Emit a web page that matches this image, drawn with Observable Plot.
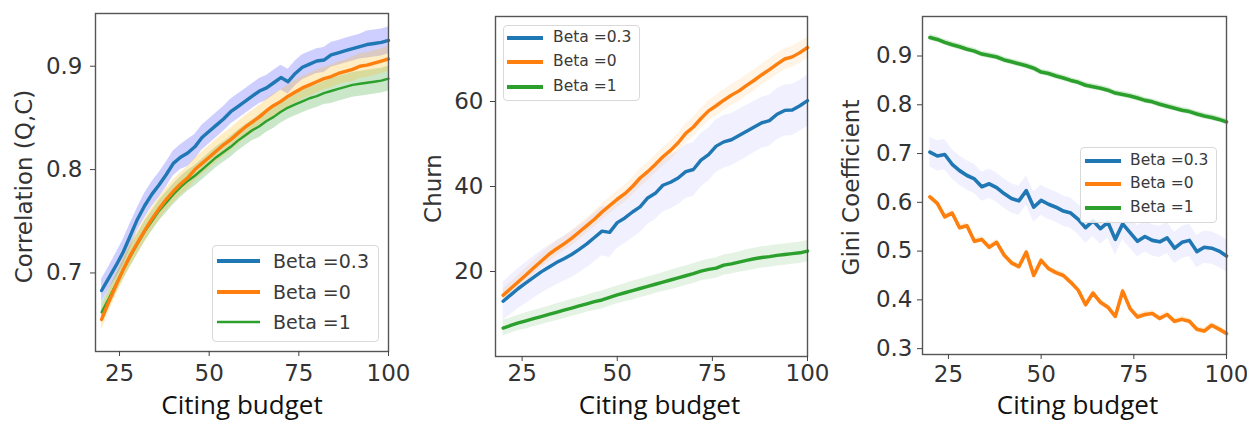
<!DOCTYPE html>
<html><head><meta charset="utf-8">
<script src="https://cdn.jsdelivr.net/npm/d3@7"></script>
<script src="https://cdn.jsdelivr.net/npm/@observablehq/plot@0.6"></script>
<style>
body{margin:0;background:#fff;}
#wrap{position:relative;width:1247px;height:423px;overflow:hidden;font-family:"DejaVu Sans",sans-serif;background:#fff;}
.panel{position:absolute;top:0;}
.legend{position:absolute;border:1px solid #d9d9d9;border-radius:4px;background:rgba(255,255,255,0.85);box-sizing:border-box;color:#3a3a3a;font-family:"DejaVu Sans",sans-serif;}
.legend svg{position:absolute;overflow:visible;}
.legend span{position:absolute;line-height:1;}
</style></head>
<body><div id="wrap"></div>
<script>
// ---------- data ----------
const budget = [20,22,24,26,28,30,32,34,36,38,40,42,44,46,48,50,52,54,56,58,60,62,64,66,68,70,72,74,76,78,80,82,84,86,88,90,92,94,96,98,100];
const seriesNames = ["Beta =0.3","Beta =0", "Beta =1"];
const seriesColors = ["#1f77b4","#ff7f0e","#2ca02c"];

// Panel 1: Correlation (Q,C)
const corrB03 = [0.683,0.695,0.707,0.720,0.736,0.752,0.765,0.776,0.785,0.795,0.806,0.812,0.816,0.822,0.831,0.837,0.843,0.849,0.856,0.861,0.866,0.871,0.876,0.879,0.884,0.889,0.885,0.893,0.899,0.902,0.905,0.906,0.911,0.913,0.915,0.917,0.919,0.921,0.922,0.923,0.925];
const corrB0  = [0.655,0.672,0.688,0.703,0.717,0.729,0.741,0.752,0.762,0.771,0.779,0.786,0.792,0.800,0.806,0.812,0.818,0.824,0.829,0.835,0.841,0.846,0.851,0.857,0.862,0.866,0.871,0.875,0.879,0.882,0.885,0.888,0.890,0.893,0.895,0.897,0.900,0.901,0.903,0.905,0.907];
const corrB1  = [0.662,0.675,0.689,0.703,0.716,0.728,0.740,0.750,0.760,0.768,0.776,0.783,0.789,0.794,0.800,0.806,0.812,0.817,0.822,0.828,0.833,0.838,0.842,0.847,0.851,0.856,0.860,0.863,0.866,0.869,0.871,0.874,0.876,0.878,0.880,0.882,0.883,0.884,0.885,0.886,0.888];
const corrSdB03 = [0.011,0.011,0.012,0.012,0.012,0.011,0.012,0.012,0.012,0.012,0.012,0.012,0.013,0.012,0.012,0.012,0.012,0.012,0.012,0.012,0.012,0.012,0.012,0.012,0.012,0.012,0.012,0.012,0.012,0.012,0.012,0.012,0.012,0.012,0.012,0.012,0.012,0.013,0.013,0.013,0.013];
const corrSdB0  = [0.010,0.010,0.010,0.011,0.011,0.011,0.011,0.011,0.011,0.011,0.011,0.011,0.011,0.011,0.011,0.011,0.011,0.011,0.011,0.011,0.011,0.011,0.011,0.011,0.011,0.011,0.011,0.011,0.011,0.011,0.011,0.011,0.011,0.011,0.011,0.012,0.012,0.012,0.012,0.012,0.012];
const corrSdB1  = [0.009,0.009,0.009,0.009,0.010,0.010,0.010,0.010,0.010,0.010,0.010,0.010,0.010,0.010,0.010,0.010,0.010,0.010,0.010,0.010,0.010,0.010,0.011,0.011,0.011,0.011,0.011,0.011,0.011,0.011,0.011,0.011,0.012,0.012,0.012,0.012,0.012,0.012,0.012,0.012,0.012];

// Panel 2: Churn
const churnB03 = [13.0,14.5,16.0,17.3,18.6,19.9,21.0,22.1,23.0,24.0,25.2,26.5,28.0,29.5,29.2,31.5,32.6,34.0,35.2,37.3,38.4,40.3,41.0,42.0,43.5,44.0,46.2,47.5,49.5,50.5,51.0,52.0,53.0,54.0,55.0,55.5,57.0,57.9,58.0,59.0,60.2];
const churnB0  = [14.4,16.0,17.6,19.2,20.8,22.4,24.0,25.3,26.5,27.8,29.3,30.8,32.3,34.0,35.5,37.0,38.3,40.0,42.0,43.5,45.2,47.0,48.5,50.3,52.5,54.0,56.0,57.8,59.0,60.3,61.5,62.5,63.8,65.0,66.3,67.5,68.8,70.0,70.5,71.5,72.7];
const churnB1  = [6.7,7.3,7.9,8.4,8.9,9.4,9.9,10.4,10.9,11.4,11.9,12.4,12.9,13.3,13.9,14.5,15.0,15.5,16.0,16.5,17.0,17.5,18.0,18.5,19.0,19.5,20.1,20.5,20.8,21.5,21.8,22.2,22.6,23.0,23.3,23.5,23.8,24.0,24.2,24.4,24.8];
const churnSdB03 = [4.5,4.6,4.7,4.8,4.9,5.0,5.1,5.2,5.3,5.4,5.5,5.6,5.7,5.8,5.9,6.0,6.0,6.1,6.1,6.2,6.2,6.3,6.3,6.3,6.3,6.3,6.3,6.2,6.2,6.2,6.1,6.1,6.1,6.0,6.0,6.0,6.0,6.0,6.0,6.0,6.0];
const churnSdB0  = [1.5,1.5,1.5,1.6,1.6,1.6,1.7,1.7,1.7,1.8,1.8,1.8,1.9,1.9,1.9,2.0,2.0,2.0,2.1,2.1,2.1,2.2,2.2,2.2,2.3,2.3,2.3,2.4,2.4,2.4,2.5,2.5,2.5,2.5,2.5,2.5,2.5,2.5,2.5,2.5,2.5];
const churnSdB1  = [1.8,1.8,1.8,1.9,1.9,1.9,1.9,2.0,2.0,2.0,2.0,2.0,2.1,2.1,2.1,2.1,2.1,2.2,2.2,2.2,2.2,2.2,2.3,2.3,2.3,2.3,2.3,2.4,2.4,2.4,2.4,2.4,2.5,2.5,2.5,2.5,2.5,2.5,2.5,2.5,2.5];

// Panel 3: Gini Coefficient
const giniB03 = [0.703,0.695,0.698,0.678,0.665,0.655,0.648,0.632,0.638,0.630,0.618,0.608,0.603,0.624,0.590,0.604,0.596,0.590,0.582,0.578,0.565,0.548,0.562,0.546,0.559,0.524,0.556,0.538,0.520,0.530,0.522,0.519,0.527,0.506,0.518,0.522,0.499,0.508,0.506,0.500,0.490];
const giniB0  = [0.611,0.598,0.570,0.578,0.548,0.552,0.520,0.524,0.508,0.518,0.492,0.476,0.468,0.498,0.450,0.481,0.464,0.456,0.450,0.436,0.420,0.390,0.414,0.395,0.385,0.366,0.418,0.382,0.365,0.370,0.372,0.362,0.370,0.356,0.360,0.356,0.340,0.336,0.348,0.340,0.331];
const giniB1  = [0.938,0.934,0.928,0.923,0.919,0.914,0.910,0.904,0.901,0.898,0.892,0.888,0.884,0.880,0.875,0.867,0.864,0.859,0.855,0.850,0.846,0.840,0.837,0.834,0.830,0.824,0.821,0.818,0.814,0.809,0.806,0.801,0.797,0.793,0.789,0.786,0.781,0.777,0.774,0.770,0.765];
const giniSdB03 = [0.030,0.031,0.031,0.030,0.030,0.030,0.030,0.030,0.030,0.030,0.030,0.030,0.030,0.030,0.031,0.031,0.031,0.031,0.031,0.031,0.031,0.032,0.032,0.032,0.032,0.032,0.032,0.032,0.032,0.032,0.032,0.032,0.032,0.032,0.033,0.033,0.033,0.033,0.033,0.033,0.033];
const giniSdB0  = [0.006,0.006,0.006,0.006,0.006,0.006,0.006,0.006,0.006,0.006,0.006,0.006,0.006,0.006,0.006,0.006,0.006,0.006,0.006,0.006,0.006,0.006,0.006,0.006,0.006,0.006,0.006,0.006,0.006,0.006,0.006,0.006,0.006,0.006,0.006,0.006,0.006,0.006,0.006,0.006,0.006];
const giniSdB1  = [0.006,0.006,0.006,0.006,0.006,0.006,0.006,0.006,0.006,0.006,0.006,0.006,0.006,0.006,0.006,0.006,0.006,0.006,0.006,0.006,0.006,0.006,0.006,0.006,0.006,0.006,0.006,0.006,0.006,0.006,0.006,0.006,0.006,0.006,0.006,0.006,0.006,0.006,0.006,0.006,0.006];

const xTicks = [25,50,75,100];
const corrTicks = [0.7,0.8,0.9];
const churnTicks = [20,40,60];
const giniTicks = [0.3,0.4,0.5,0.6,0.7,0.8,0.9];
const xLabel = "Citing budget";

// ---------- drawing ----------
const wrap = document.getElementById("wrap");

function rowsOf(values, sd) {
  return budget.map((b, i) => ({x: b, y: values[i], lo: values[i] - sd[i], hi: values[i] + sd[i]}));
}

function makePanel(cfg) {
  const marks = [];
  cfg.series.forEach(s => {
    marks.push(Plot.areaY(rowsOf(s.values, s.sd), {x: "x", y1: "lo", y2: "hi", fill: s.band, curve: "linear"}));
  });
  cfg.series.forEach(s => {
    marks.push(Plot.line(rowsOf(s.values, s.sd), {x: "x", y: "y", stroke: s.color, strokeWidth: s.width, strokeLinejoin: "round"}));
  });
  marks.push(Plot.frame({stroke: "#555", strokeWidth: 1.4}));
  marks.push(Plot.axisX({ticks: xTicks, tickSize: 5, tickPadding: cfg.xPad, fontSize: 23, label: null, stroke: "#444"}));
  marks.push(Plot.axisY({ticks: cfg.yTicks, tickFormat: cfg.yFormat, tickSize: 5, tickPadding: cfg.yPad, fontSize: 23, label: null, stroke: "#444"}));
  marks.push(Plot.text([xLabel], {text: d => d, frameAnchor: "bottom", dy: cfg.xlDy, dx: cfg.xlDx, fontSize: 26, fontFamily: "Open Sans", fill: "#111", lineAnchor: "middle", textAnchor: "middle"}));
  marks.push(Plot.text([cfg.yLabel], {text: d => d, frameAnchor: "left", dx: cfg.ylDx, dy: cfg.ylDy, rotate: -90, fontSize: 23, fill: "#333", lineAnchor: "middle", textAnchor: "middle"}));
  const svg = Plot.plot({
    width: cfg.width, height: 423,
    marginLeft: cfg.ml, marginRight: cfg.mr, marginTop: cfg.mt, marginBottom: 423 - cfg.fb,
    x: {domain: cfg.xDomain},
    y: {domain: cfg.yDomain},
    style: {fontFamily: "DejaVu Sans", color: "#333", background: "transparent", overflow: "visible"},
    marks
  });
  const holder = document.createElement("div");
  holder.className = "panel";
  holder.style.left = cfg.left + "px";
  holder.appendChild(svg);
  wrap.appendChild(holder);
}

function makeLegend(lg, series) {
  const d = document.createElement("div");
  d.className = "legend";
  Object.assign(d.style, {left: lg.x + "px", top: lg.y + "px", width: lg.w + "px", height: lg.h + "px"});
  series.forEach((s, i) => {
    const cy = lg.rowY[i] - lg.y - 1;
    const ns = "http://www.w3.org/2000/svg";
    const sv = document.createElementNS(ns, "svg");
    sv.setAttribute("width", lg.lineW); sv.setAttribute("height", 10);
    sv.style.left = (lg.lineX - lg.x - 1) + "px"; sv.style.top = (cy - 5) + "px";
    const ln = document.createElementNS(ns, "line");
    ln.setAttribute("x1", 0); ln.setAttribute("x2", lg.lineW); ln.setAttribute("y1", 5); ln.setAttribute("y2", 5);
    ln.setAttribute("stroke", s.color); ln.setAttribute("stroke-width", s.lw);
    sv.appendChild(ln); d.appendChild(sv);
    const t = document.createElement("span");
    t.textContent = s.name;
    t.style.fontSize = lg.fs + "px";
    t.style.left = (lg.textX - lg.x - 1) + "px";
    t.style.top = (cy - lg.fs * 0.5) + "px";
    d.appendChild(t);
  });
  wrap.appendChild(d);
}

const fmt1 = d3.format(".1f");
const fmt0 = d3.format("d");

// Panel 1
makePanel({
  left: 0, width: 420, ml: 95, mr: 32, mt: 13, fb: 351,
  xDomain: [18.3, 100], yDomain: [0.624, 0.951], yTicks: corrTicks, yFormat: fmt1, yPad: 8, xPad: 8,
  yLabel: "Correlation (Q,C)", ylDx: -71, ylDy: 4, xlDy: 54, xlDx: 0,
  series: [
    {values: corrB03, sd: corrSdB03, color: seriesColors[0], width: 3.4, band: "rgba(60,60,255,0.25)"},
    {values: corrB1,  sd: corrSdB1,  color: seriesColors[2], width: 2.4, band: "rgba(44,160,44,0.25)"},
    {values: corrB0,  sd: corrSdB0,  color: seriesColors[1], width: 3.4, band: "rgba(255,190,40,0.28)"}
  ]
});
// Panel 2
makePanel({
  left: 420, width: 420, ml: 75, mr: 33, mt: 16, fb: 356,
  xDomain: [18, 100], yDomain: [0, 80], yTicks: churnTicks, yFormat: fmt0, yPad: 7, xPad: 3,
  yLabel: "Churn", ylDx: -62, ylDy: 2, xlDy: 49, xlDx: 8,
  series: [
    {values: churnB03, sd: churnSdB03, color: seriesColors[0], width: 3.4, band: "rgba(90,90,255,0.09)"},
    {values: churnB0,  sd: churnSdB0,  color: seriesColors[1], width: 3.4, band: "rgba(255,165,40,0.12)"},
    {values: churnB1,  sd: churnSdB1,  color: seriesColors[2], width: 3.4, band: "rgba(44,160,44,0.13)"}
  ]
});
// Panel 3
makePanel({
  left: 840, width: 407, ml: 82, mr: 21, mt: 16, fb: 354,
  xDomain: [18, 100], yDomain: [0.288, 0.981], yTicks: giniTicks, yFormat: fmt1, yPad: 5, xPad: 6,
  yLabel: "Gini Coefficient", ylDx: -71, ylDy: 2, xlDy: 51, xlDx: 3,
  series: [
    {values: giniB03, sd: giniSdB03, color: seriesColors[0], width: 3.6, band: "rgba(90,90,255,0.09)"},
    {values: giniB0,  sd: giniSdB0,  color: seriesColors[1], width: 3.6, band: "rgba(255,165,40,0.2)"},
    {values: giniB1,  sd: giniSdB1,  color: seriesColors[2], width: 3.6, band: "rgba(44,160,44,0.2)"}
  ]
});

const legendSeries1 = seriesNames.map((n, i) => ({name: n, color: seriesColors[i], lw: i === 2 ? 2.4 : 3.8}));
const legendSeries = seriesNames.map((n, i) => ({name: n, color: seriesColors[i], lw: 3.8}));
makeLegend({x: 212, y: 245, w: 167, h: 97, rowY: [261, 292, 322], lineX: 217, lineW: 43, textX: 273, fs: 19}, legendSeries1);
makeLegend({x: 503, y: 25, w: 137, h: 76, rowY: [38, 62, 87], lineX: 507, lineW: 36, textX: 553, fs: 15.5}, legendSeries);
makeLegend({x: 1080, y: 147, w: 137, h: 76, rowY: [161, 184, 208], lineX: 1085, lineW: 36, textX: 1130, fs: 15.5}, legendSeries);
</script>
</body></html>
